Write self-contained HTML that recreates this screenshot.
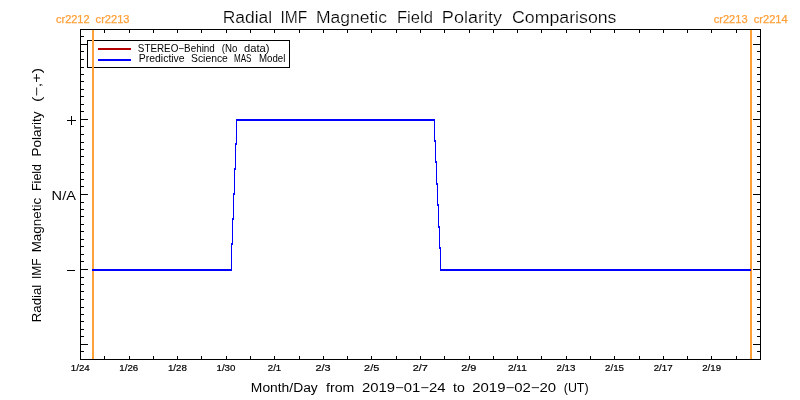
<!DOCTYPE html>
<html><head><meta charset="utf-8"><title>Radial IMF Magnetic Field Polarity Comparisons</title>
<style>
html,body{margin:0;padding:0;background:#fff;}
body{width:800px;height:400px;overflow:hidden;}
svg{display:block;}
svg text{font-family:"Liberation Sans",sans-serif;fill:#000;}
</style></head><body>
<svg width="800" height="400" viewBox="0 0 800 400">
<rect x="0" y="0" width="800" height="400" fill="#fff"/>
<g fill="#000" shape-rendering="crispEdges">
<rect x="80" y="29" width="681" height="1"/><rect x="80" y="359" width="681" height="1"/><rect x="80" y="29" width="1" height="331"/><rect x="760" y="29" width="1" height="331"/>
<rect x="104" y="29" width="1" height="4"/><rect x="104" y="356" width="1" height="4"/><rect x="129" y="29" width="1" height="4"/><rect x="129" y="356" width="1" height="4"/><rect x="153" y="29" width="1" height="4"/><rect x="153" y="356" width="1" height="4"/><rect x="177" y="29" width="1" height="4"/><rect x="177" y="356" width="1" height="4"/><rect x="201" y="29" width="1" height="4"/><rect x="201" y="356" width="1" height="4"/><rect x="226" y="29" width="1" height="4"/><rect x="226" y="356" width="1" height="4"/><rect x="250" y="29" width="1" height="4"/><rect x="250" y="356" width="1" height="4"/><rect x="274" y="29" width="1" height="4"/><rect x="274" y="356" width="1" height="4"/><rect x="299" y="29" width="1" height="4"/><rect x="299" y="356" width="1" height="4"/><rect x="323" y="29" width="1" height="4"/><rect x="323" y="356" width="1" height="4"/><rect x="347" y="29" width="1" height="4"/><rect x="347" y="356" width="1" height="4"/><rect x="371" y="29" width="1" height="4"/><rect x="371" y="356" width="1" height="4"/><rect x="396" y="29" width="1" height="4"/><rect x="396" y="356" width="1" height="4"/><rect x="420" y="29" width="1" height="4"/><rect x="420" y="356" width="1" height="4"/><rect x="444" y="29" width="1" height="4"/><rect x="444" y="356" width="1" height="4"/><rect x="469" y="29" width="1" height="4"/><rect x="469" y="356" width="1" height="4"/><rect x="493" y="29" width="1" height="4"/><rect x="493" y="356" width="1" height="4"/><rect x="517" y="29" width="1" height="4"/><rect x="517" y="356" width="1" height="4"/><rect x="541" y="29" width="1" height="4"/><rect x="541" y="356" width="1" height="4"/><rect x="566" y="29" width="1" height="4"/><rect x="566" y="356" width="1" height="4"/><rect x="590" y="29" width="1" height="4"/><rect x="590" y="356" width="1" height="4"/><rect x="614" y="29" width="1" height="4"/><rect x="614" y="356" width="1" height="4"/><rect x="639" y="29" width="1" height="4"/><rect x="639" y="356" width="1" height="4"/><rect x="663" y="29" width="1" height="4"/><rect x="663" y="356" width="1" height="4"/><rect x="687" y="29" width="1" height="4"/><rect x="687" y="356" width="1" height="4"/><rect x="711" y="29" width="1" height="4"/><rect x="711" y="356" width="1" height="4"/><rect x="736" y="29" width="1" height="4"/><rect x="736" y="356" width="1" height="4"/>
<rect x="80" y="36" width="4" height="1"/><rect x="757" y="36" width="4" height="1"/><rect x="80" y="44" width="8" height="1"/><rect x="753" y="44" width="8" height="1"/><rect x="80" y="51" width="4" height="1"/><rect x="757" y="51" width="4" height="1"/><rect x="80" y="59" width="4" height="1"/><rect x="757" y="59" width="4" height="1"/><rect x="80" y="67" width="4" height="1"/><rect x="757" y="67" width="4" height="1"/><rect x="80" y="74" width="4" height="1"/><rect x="757" y="74" width="4" height="1"/><rect x="80" y="81" width="4" height="1"/><rect x="757" y="81" width="4" height="1"/><rect x="80" y="89" width="4" height="1"/><rect x="757" y="89" width="4" height="1"/><rect x="80" y="96" width="4" height="1"/><rect x="757" y="96" width="4" height="1"/><rect x="80" y="104" width="4" height="1"/><rect x="757" y="104" width="4" height="1"/><rect x="80" y="111" width="4" height="1"/><rect x="757" y="111" width="4" height="1"/><rect x="80" y="119" width="8" height="1"/><rect x="753" y="119" width="8" height="1"/><rect x="80" y="126" width="4" height="1"/><rect x="757" y="126" width="4" height="1"/><rect x="80" y="134" width="4" height="1"/><rect x="757" y="134" width="4" height="1"/><rect x="80" y="142" width="4" height="1"/><rect x="757" y="142" width="4" height="1"/><rect x="80" y="149" width="4" height="1"/><rect x="757" y="149" width="4" height="1"/><rect x="80" y="156" width="4" height="1"/><rect x="757" y="156" width="4" height="1"/><rect x="80" y="164" width="4" height="1"/><rect x="757" y="164" width="4" height="1"/><rect x="80" y="172" width="4" height="1"/><rect x="757" y="172" width="4" height="1"/><rect x="80" y="179" width="4" height="1"/><rect x="757" y="179" width="4" height="1"/><rect x="80" y="186" width="4" height="1"/><rect x="757" y="186" width="4" height="1"/><rect x="80" y="194" width="8" height="1"/><rect x="753" y="194" width="8" height="1"/><rect x="80" y="202" width="4" height="1"/><rect x="757" y="202" width="4" height="1"/><rect x="80" y="209" width="4" height="1"/><rect x="757" y="209" width="4" height="1"/><rect x="80" y="216" width="4" height="1"/><rect x="757" y="216" width="4" height="1"/><rect x="80" y="224" width="4" height="1"/><rect x="757" y="224" width="4" height="1"/><rect x="80" y="231" width="4" height="1"/><rect x="757" y="231" width="4" height="1"/><rect x="80" y="239" width="4" height="1"/><rect x="757" y="239" width="4" height="1"/><rect x="80" y="246" width="4" height="1"/><rect x="757" y="246" width="4" height="1"/><rect x="80" y="254" width="4" height="1"/><rect x="757" y="254" width="4" height="1"/><rect x="80" y="261" width="4" height="1"/><rect x="757" y="261" width="4" height="1"/><rect x="80" y="269" width="8" height="1"/><rect x="753" y="269" width="8" height="1"/><rect x="80" y="277" width="4" height="1"/><rect x="757" y="277" width="4" height="1"/><rect x="80" y="284" width="4" height="1"/><rect x="757" y="284" width="4" height="1"/><rect x="80" y="291" width="4" height="1"/><rect x="757" y="291" width="4" height="1"/><rect x="80" y="299" width="4" height="1"/><rect x="757" y="299" width="4" height="1"/><rect x="80" y="307" width="4" height="1"/><rect x="757" y="307" width="4" height="1"/><rect x="80" y="314" width="4" height="1"/><rect x="757" y="314" width="4" height="1"/><rect x="80" y="321" width="4" height="1"/><rect x="757" y="321" width="4" height="1"/><rect x="80" y="329" width="4" height="1"/><rect x="757" y="329" width="4" height="1"/><rect x="80" y="336" width="4" height="1"/><rect x="757" y="336" width="4" height="1"/><rect x="80" y="344" width="8" height="1"/><rect x="753" y="344" width="8" height="1"/><rect x="80" y="351" width="4" height="1"/><rect x="757" y="351" width="4" height="1"/>
</g>
<g shape-rendering="crispEdges"><rect x="87.5" y="40.5" width="202" height="27" fill="#fff" stroke="#000" stroke-width="1"/><rect x="98" y="48" width="33" height="2" fill="#b40000"/><rect x="98" y="59" width="33" height="2" fill="#0000ff"/></g>
<g fill="#ffa038" shape-rendering="crispEdges"><rect x="92" y="30" width="2" height="329"/><rect x="750" y="30" width="2" height="329"/></g>
<g fill="#0000ff" shape-rendering="crispEdges"><rect x="92" y="269" width="140" height="2"/><rect x="236" y="119" width="199" height="2"/><rect x="440" y="269" width="311" height="2"/><rect x="236" y="119" width="1" height="26"/><rect x="235" y="143" width="1" height="27"/><rect x="234" y="168" width="1" height="27"/><rect x="233" y="193" width="1" height="27"/><rect x="232" y="218" width="1" height="27"/><rect x="231" y="243" width="1" height="28"/><rect x="434" y="119" width="1" height="23"/><rect x="435" y="140" width="1" height="23"/><rect x="436" y="161" width="1" height="24"/><rect x="437" y="183" width="1" height="23"/><rect x="438" y="204" width="1" height="24"/><rect x="439" y="226" width="1" height="23"/><rect x="440" y="247" width="1" height="24"/></g>
<g fill="#000" shape-rendering="crispEdges"><rect x="67" y="120" width="9" height="1"/><rect x="71" y="116" width="1" height="9"/><rect x="67" y="270" width="8" height="1"/></g>
<g opacity="0.999">
<text x="222.66" y="22.6" textLength="49.44" lengthAdjust="spacingAndGlyphs" font-size="16" stroke="#fff" stroke-width="0.2">Radial</text>
<text x="280.53" y="22.6" textLength="26.75" lengthAdjust="spacingAndGlyphs" font-size="16" stroke="#fff" stroke-width="0.2">IMF</text>
<text x="315.90" y="22.6" textLength="71.10" lengthAdjust="spacingAndGlyphs" font-size="16" stroke="#fff" stroke-width="0.2">Magnetic</text>
<text x="396.96" y="22.6" textLength="35.97" lengthAdjust="spacingAndGlyphs" font-size="16" stroke="#fff" stroke-width="0.2">Field</text>
<text x="441.87" y="22.6" textLength="60.13" lengthAdjust="spacingAndGlyphs" font-size="16" stroke="#fff" stroke-width="0.2">Polarity</text>
<text x="512.00" y="22.6" textLength="104.50" lengthAdjust="spacingAndGlyphs" font-size="16" stroke="#fff" stroke-width="0.2">Comparisons</text>
<text x="250.87" y="392" textLength="66.92" lengthAdjust="spacingAndGlyphs" font-size="12.3">Month/Day</text>
<text x="326.00" y="392" textLength="28.28" lengthAdjust="spacingAndGlyphs" font-size="12.3">from</text>
<text x="362.00" y="392" textLength="83.41" lengthAdjust="spacingAndGlyphs" font-size="12.3">2019−01−24</text>
<text x="453.00" y="392" textLength="11.81" lengthAdjust="spacingAndGlyphs" font-size="12.3">to</text>
<text x="472.25" y="392" textLength="83.80" lengthAdjust="spacingAndGlyphs" font-size="12.3">2019−02−20</text>
<text x="563.75" y="392" textLength="24.85" lengthAdjust="spacingAndGlyphs" font-size="12.3">(UT)</text>
<text transform="translate(41.4,322.33) rotate(-90)" textLength="37.62" lengthAdjust="spacingAndGlyphs" font-size="12.3">Radial</text>
<text transform="translate(41.4,278.97) rotate(-90)" textLength="20.50" lengthAdjust="spacingAndGlyphs" font-size="12.3">IMF</text>
<text transform="translate(41.4,252.34) rotate(-90)" textLength="54.50" lengthAdjust="spacingAndGlyphs" font-size="12.3">Magnetic</text>
<text transform="translate(41.4,191.02) rotate(-90)" textLength="27.10" lengthAdjust="spacingAndGlyphs" font-size="12.3">Field</text>
<text transform="translate(41.4,156.60) rotate(-90)" textLength="45.16" lengthAdjust="spacingAndGlyphs" font-size="12.3">Polarity</text>
<text transform="translate(41.4,102.00) rotate(-90)" textLength="34.12" lengthAdjust="spacingAndGlyphs" font-size="12.3">(−,+)</text>
<text x="137.80" y="51.6" textLength="77.05" lengthAdjust="spacingAndGlyphs" font-size="10.5">STEREO−Behind</text>
<text x="221.80" y="51.6" textLength="15.55" lengthAdjust="spacingAndGlyphs" font-size="10.5">(No</text>
<text x="244.00" y="51.6" textLength="25.53" lengthAdjust="spacingAndGlyphs" font-size="10.5">data)</text>
<text x="138.80" y="61.7" textLength="45.84" lengthAdjust="spacingAndGlyphs" font-size="10.5">Predictive</text>
<text x="191.00" y="61.7" textLength="36.84" lengthAdjust="spacingAndGlyphs" font-size="10.5">Science</text>
<text x="234.00" y="61.7" textLength="17.50" lengthAdjust="spacingAndGlyphs" font-size="10.5">MAS</text>
<text x="259.00" y="61.7" textLength="26.31" lengthAdjust="spacingAndGlyphs" font-size="10.5">Model</text>
<text x="56.00" y="23" textLength="33.52" lengthAdjust="spacingAndGlyphs" font-size="10.0" style="fill:#ffa038" stroke="#ffa038" stroke-width="0.25">cr2212</text>
<text x="95.60" y="23" textLength="33.91" lengthAdjust="spacingAndGlyphs" font-size="10.0" style="fill:#ffa038" stroke="#ffa038" stroke-width="0.25">cr2213</text>
<text x="713.75" y="23" textLength="33.77" lengthAdjust="spacingAndGlyphs" font-size="10.0" style="fill:#ffa038" stroke="#ffa038" stroke-width="0.25">cr2213</text>
<text x="753.75" y="23" textLength="33.86" lengthAdjust="spacingAndGlyphs" font-size="10.0" style="fill:#ffa038" stroke="#ffa038" stroke-width="0.25">cr2214</text>
<text x="51.63" y="199.75" textLength="24.25" lengthAdjust="spacingAndGlyphs" font-size="13">N/A</text>
<text x="70.80" y="371" textLength="18.89" lengthAdjust="spacingAndGlyphs" font-size="8.5" stroke="#000" stroke-width="0.2">1/24</text>
<text x="119.37" y="371" textLength="18.89" lengthAdjust="spacingAndGlyphs" font-size="8.5" stroke="#000" stroke-width="0.2">1/26</text>
<text x="167.94" y="371" textLength="18.89" lengthAdjust="spacingAndGlyphs" font-size="8.5" stroke="#000" stroke-width="0.2">1/28</text>
<text x="216.51" y="371" textLength="18.89" lengthAdjust="spacingAndGlyphs" font-size="8.5" stroke="#000" stroke-width="0.2">1/30</text>
<text x="267.84" y="371" textLength="13.39" lengthAdjust="spacingAndGlyphs" font-size="8.5" stroke="#000" stroke-width="0.2">2/1</text>
<text x="315.51" y="371" textLength="15.15" lengthAdjust="spacingAndGlyphs" font-size="8.5" stroke="#000" stroke-width="0.2">2/3</text>
<text x="364.08" y="371" textLength="15.15" lengthAdjust="spacingAndGlyphs" font-size="8.5" stroke="#000" stroke-width="0.2">2/5</text>
<text x="412.65" y="371" textLength="15.15" lengthAdjust="spacingAndGlyphs" font-size="8.5" stroke="#000" stroke-width="0.2">2/7</text>
<text x="461.22" y="371" textLength="15.15" lengthAdjust="spacingAndGlyphs" font-size="8.5" stroke="#000" stroke-width="0.2">2/9</text>
<text x="507.94" y="371" textLength="18.88" lengthAdjust="spacingAndGlyphs" font-size="8.5" stroke="#000" stroke-width="0.2">2/11</text>
<text x="556.51" y="371" textLength="18.89" lengthAdjust="spacingAndGlyphs" font-size="8.5" stroke="#000" stroke-width="0.2">2/13</text>
<text x="605.09" y="371" textLength="18.89" lengthAdjust="spacingAndGlyphs" font-size="8.5" stroke="#000" stroke-width="0.2">2/15</text>
<text x="653.66" y="371" textLength="18.89" lengthAdjust="spacingAndGlyphs" font-size="8.5" stroke="#000" stroke-width="0.2">2/17</text>
<text x="702.23" y="371" textLength="18.89" lengthAdjust="spacingAndGlyphs" font-size="8.5" stroke="#000" stroke-width="0.2">2/19</text>
</g>
</svg>
</body></html>
